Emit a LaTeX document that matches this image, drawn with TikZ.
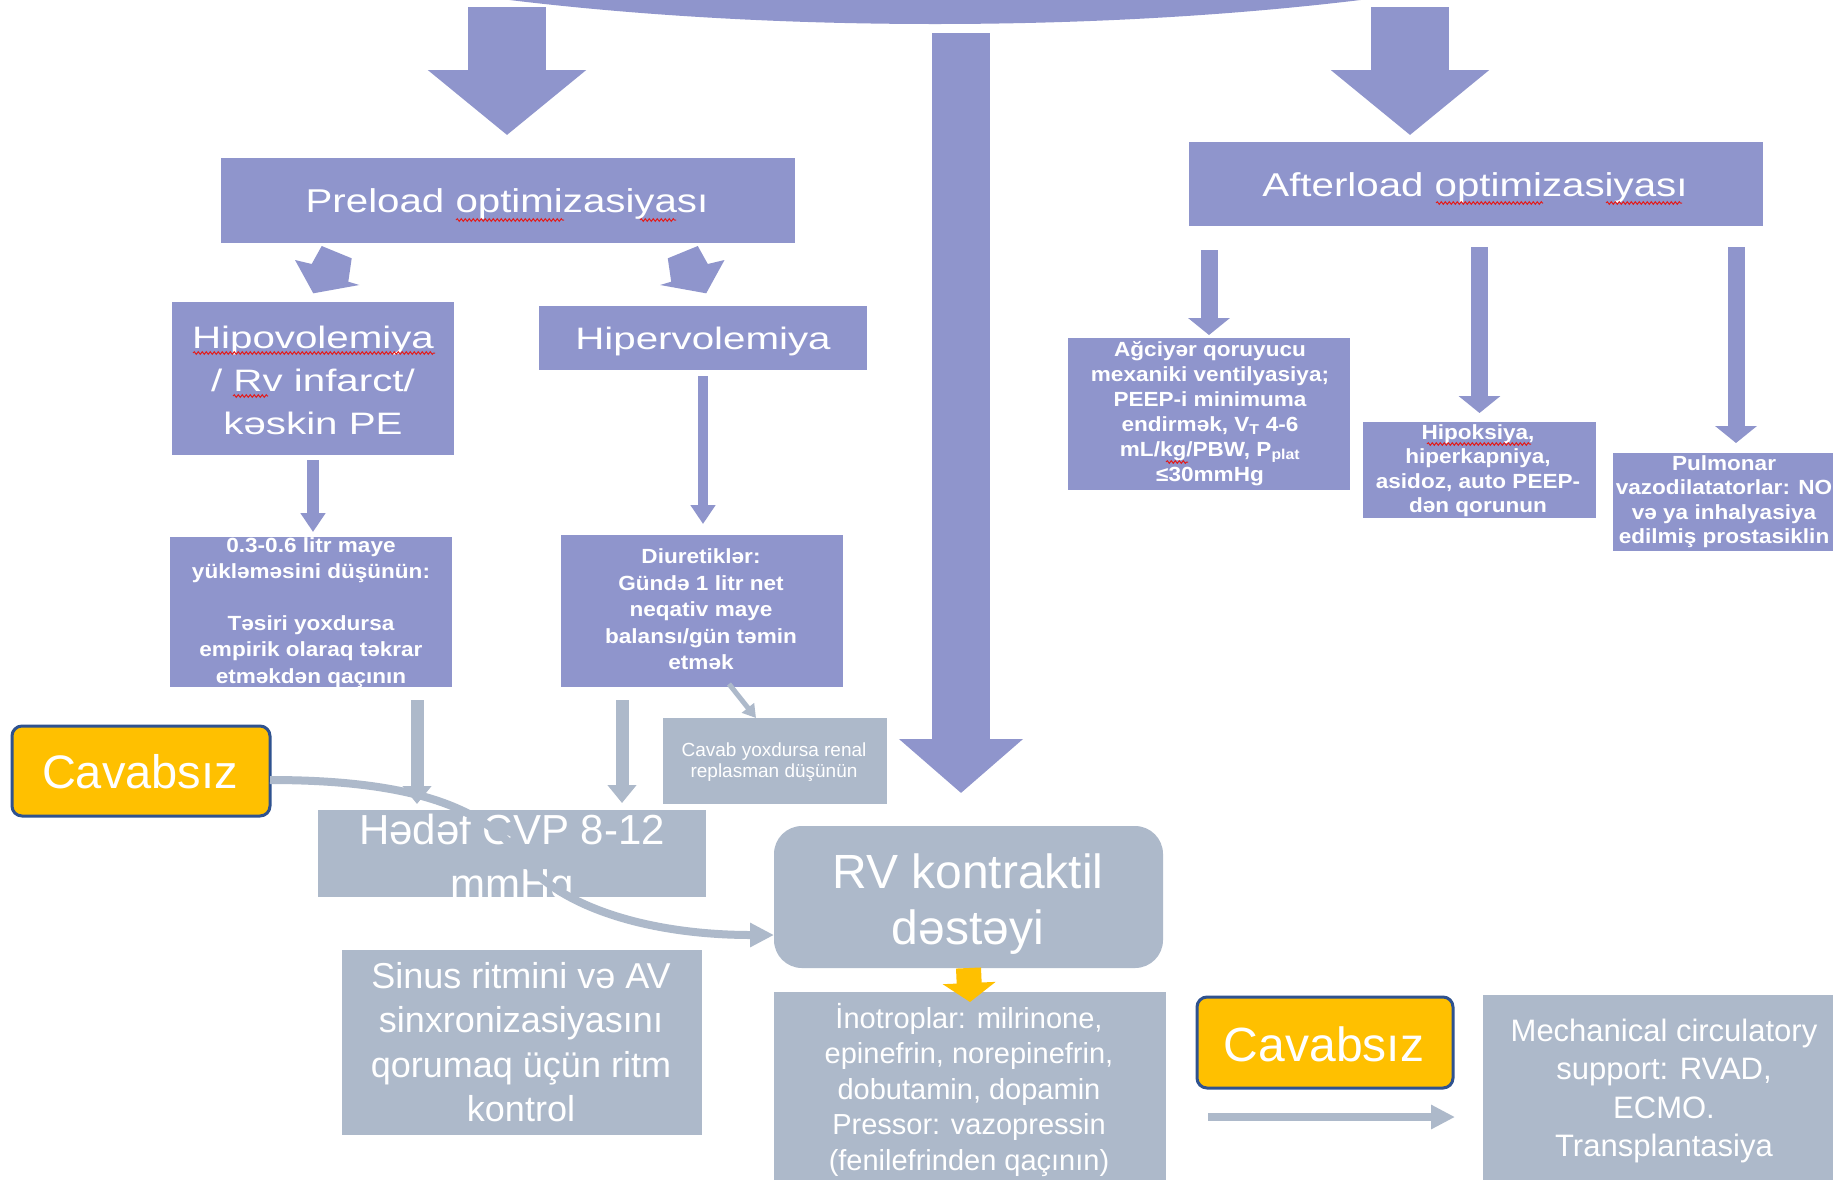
\documentclass[tikz,border=0pt]{standalone}
\usepackage{fontspec}
\setmainfont{Liberation Sans}
\newfontfamily\headface[FakeStretch=1.22]{Liberation Sans}
\newfontfamily\wideface[FakeStretch=1.3]{Liberation Sans}
\newfontfamily\smallwide[FakeStretch=1.1]{Liberation Sans}
\usetikzlibrary{arrows.meta,shapes.geometric,decorations.pathmorphing}
\newcommand{\setfs}[2]{\fontsize{#1pt}{#2pt}\selectfont}
\definecolor{lav}{RGB}{143,149,204}
\definecolor{slate}{RGB}{173,185,202}
\definecolor{amber}{RGB}{255,192,0}
\definecolor{navyline}{RGB}{47,82,143}
\definecolor{spellred}{RGB}{225,30,30}
\tikzset{
  lavbox/.style={rectangle, fill=lav, draw=none, inner sep=0pt, outer sep=0pt},
  slatebox/.style={rectangle, fill=slate, draw=none, inner sep=0pt, outer sep=0pt},
  amberbox/.style={rectangle, fill=amber, draw=navyline, line width=3pt, rounded corners=10pt, inner sep=0pt, outer sep=0pt},
  txt/.style={text=white, align=center, inner sep=0pt, outer sep=0pt},
  headtxt/.style={txt, font=\headface\setfs{33}{40}},
  bigtxt/.style={txt, font=\wideface\setfs{31}{42.7}},
  smalltxt/.style={txt, font=\smallwide\bfseries\setfs{20.5}{#1}},
  bigarrow/.style={draw=lav, line width=78pt, -{Triangle[width=155pt,length=65pt]}},
  midarrow/.style={draw=lav, line width=58pt, -{Triangle[width=121pt,length=54pt]}},
  bluearrow/.style={draw=lav, line width=17pt, -{Triangle[width=41pt,length=17pt]}},
  thinblue/.style={draw=lav, line width=#1, -{Triangle[width=24pt,length=19pt]}},
  greyarrow/.style={draw=slate, line width=13pt, -{Triangle[width=28pt,length=18pt]}},
  squig/.style={draw=spellred, line width=1pt, decorate, decoration={snake, amplitude=1.3pt, segment length=4pt}}
}
\begin{document}
\begin{tikzpicture}[x=1pt,y=-1pt]
\useasboundingbox (0,0) rectangle (1833,1179);
\clip (0,0) rectangle (1833,1179);
\fill[white] (0,0) rectangle (1833,1179);

% central hub, only its lower rim is on the page
\node[ellipse, fill=lav, minimum width=1790pt, minimum height=400pt, inner sep=0pt] (hub) at (935,-176) {};

% boxes
\node[lavbox, minimum width=574pt, minimum height=85pt] (pre) at (508,200.5) {};
\node[lavbox, minimum width=574pt, minimum height=84pt] (aft) at (1476,184) {};
\node[lavbox, minimum width=282pt, minimum height=153pt] (hipo) at (313,378.5) {};
\node[lavbox, minimum width=328pt, minimum height=64pt] (hiper) at (703,338) {};
\node[lavbox, minimum width=282pt, minimum height=150pt] (b03) at (311,612) {};
\node[lavbox, minimum width=282pt, minimum height=152pt] (diur) at (702,611) {};
\node[lavbox, minimum width=282pt, minimum height=152pt] (agc) at (1209,414) {};
\node[lavbox, minimum width=233pt, minimum height=96pt] (hpk) at (1479.5,470) {};
\node[lavbox, minimum width=246pt, minimum height=98pt] (pul) at (1736,502) {};
\node[slatebox, minimum width=224pt, minimum height=86pt] (cav) at (775,761) {};
\node[slatebox, minimum width=388pt, minimum height=87pt] (hed) at (512,853.5) {};
\node[slatebox, minimum width=389pt, minimum height=142pt, rounded corners=28pt] (rv) at (968.5,897) {};
\node[slatebox, minimum width=392pt, minimum height=198pt] (ino) at (970,1091) {};
\node[slatebox, minimum width=360pt, minimum height=185pt] (sin) at (522,1042.5) {};
\node[slatebox, minimum width=367pt, minimum height=195pt] (mcs) at (1666.5,1092.5) {};
\node[amberbox, minimum width=258pt, minimum height=90pt] (cav1) at (141,771) {};
\node[amberbox, minimum width=256pt, minimum height=91pt] (cav2) at (1325,1042.5) {};

% big arrows from the hub
\coordinate (la) at (507,7);
\coordinate (ra) at (1410,7);
\coordinate (ma) at (961,33);
\draw[bigarrow, shorten >=23pt] (la) -- (la |- pre.north);
\draw[bigarrow, shorten >=7pt] (ra) -- (ra |- aft.north);
\draw[midarrow, shorten >=33pt] (ma) -- (ma |- rv.north);

% tilted arrows under the preload box
\fill[lav] (321.7,246) -- (351.7,258.3) -- (348.3,281.7) -- (359.3,285) -- (313.3,293.3) -- (295,260) -- (311.7,264) -- cycle;
\fill[lav] (697.8,246) -- (667.8,258.3) -- (671.2,281.7) -- (660.2,285) -- (706.2,293.3) -- (724.5,260) -- (707.8,264) -- cycle;

% texts
\node[headtxt] (pre-t) at (507,204.2) {Preload optimizasiyası};
\node[headtxt] (aft-t) at (1475,187.7) {Afterload optimizasiyası};
\node[bigtxt] (hipo-t) at (313,380.4) {Hipovolemiya\\/ Rv infarct/\\kəskin PE};
\node[bigtxt] (hiper-t) at (703,341.3) {Hipervolemiya};
\node[smalltxt=26.2] (b03-t) at (311,612.2) {0.3-0.6 litr maye\\yükləməsini düşünün:\\[26.2pt]Təsiri yoxdursa\\empirik olaraq təkrar\\etməkdən qaçının};
\node[smalltxt=26.5] (diur-t) at (701,609.5) {Diuretiklər:\\Gündə 1 litr net\\neqativ maye\\balansı/gün təmin\\etmək};
\node[smalltxt=25] (agc-t) at (1210,413.7) {Ağciyər qoruyucu\\mexaniki ventilyasiya;\\PEEP-i minimuma\\endirmək, V\textsubscript{T} 4-6\\mL/kg/PBW, P\textsubscript{plat}\\≤30mmHg};
\node[smalltxt=24.6] (hpk-t) at (1478,470.7) {Hipoksiya,\\hiperkapniya,\\asidoz, auto PEEP-\\dən qorunun};
\node[smalltxt=24.3] (pul-t) at (1724,501.7) {Pulmonar\\vazodilatatorlar: NO\\və ya inhalyasiya\\edilmiş prostasiklin};
\node[txt, font=\setfs{19}{21}] (cav-t) at (774,762.5) {Cavab yoxdursa renal\\replasman düşünün};
\node[txt, font=\setfs{42}{54}] (hed-t) at (512,861) {Hədəf CVP 8-12\\mmHg};
\node[txt, font=\setfs{48}{56.5}] (rv-t) at (968,904) {RV kontraktil\\dəstəyi};
\node[txt, font=\setfs{36}{44.5}] (sin-t) at (521,1041.9) {Sinus ritmini və AV\\sinxronizasiyasını\\qorumaq üçün ritm\\kontrol};
\node[txt, font=\setfs{29}{35.6}] (ino-t) at (969,1089.7) {İnotroplar: milrinone,\\epinefrin, norepinefrin,\\dobutamin, dopamin\\Pressor: vazopressin\\(fenilefrinden qaçının)};
\node[txt, font=\setfs{47}{50}] (cav1-t) at (140,771.2) {Cavabsız};
\node[txt, font=\setfs{48}{50}] (cav2-t) at (1324,1044) {Cavabsız};
\node[txt, font=\setfs{31}{38.2}] (mcs-t) at (1664,1091) {Mechanical circulatory\\support: RVAD,\\ECMO.\\Transplantasiya};

% spell-check underlines
\draw[squig] (456,220) -- (564,220);
\draw[squig] (640,220) -- (676,220);
\draw[squig] (1436,203) -- (1543,203);
\draw[squig] (1606,203) -- (1682,203);
\draw[squig] (193,353) -- (435,353);
\draw[squig] (233,396) -- (268,396);
\draw[squig] (1427,444) -- (1531,444);
\draw[squig] (1166,462) -- (1188,462);

% blue connectors
\draw[thinblue=12pt, shorten <=5pt, shorten >=5pt] (hipo.south) -- (hipo.south |- b03.north);
\draw[thinblue=10pt, shorten <=6pt, shorten >=11pt] (hiper.south) -- (hiper.south |- diur.north);
\draw[bluearrow, shorten <=24pt, shorten >=3pt] (aft.south -| agc.north) -- (agc.north);
\draw[bluearrow, shorten <=21pt, shorten >=9pt] (aft.south -| hpk.north) -- (hpk.north);
\draw[bluearrow, shorten <=21pt, shorten >=10pt] (aft.south -| pul.north) -- (pul.north);

% grey connectors
\coordinate (g1s) at (417,700);
\coordinate (g2s) at (622,700);
\coordinate (dgs) at (729,684);
\coordinate (bgs) at (1208,1117);
\draw[greyarrow, shorten >=6pt] (g1s) -- (g1s |- hed.north);
\draw[greyarrow, shorten >=7pt] (g2s) -- (g2s |- hed.north);
\draw[draw=slate, line width=5pt, -{Triangle[width=15pt,length=13pt]}] (dgs) -- ([xshift=-19pt]cav.north);
\draw[draw=slate, line width=8pt, -{Triangle[width=23pt,length=24pt]}, shorten >=28pt] (bgs) -- (bgs -| mcs.west);
\draw[draw=slate, line width=8pt, -{Triangle[width=23pt,length=24pt]}]
  ([yshift=-9pt]cav1.east) .. controls (430,780) and (490,815) .. (524,860)
  .. controls (558,905) and (645,935) .. ([yshift=-38pt]rv.west);

% amber connector
\draw[draw=amber, line width=25pt, -{Triangle[width=52pt,length=19pt]}] (rv.south) -- ([yshift=-10pt]ino.north);
\end{tikzpicture}
\end{document}
